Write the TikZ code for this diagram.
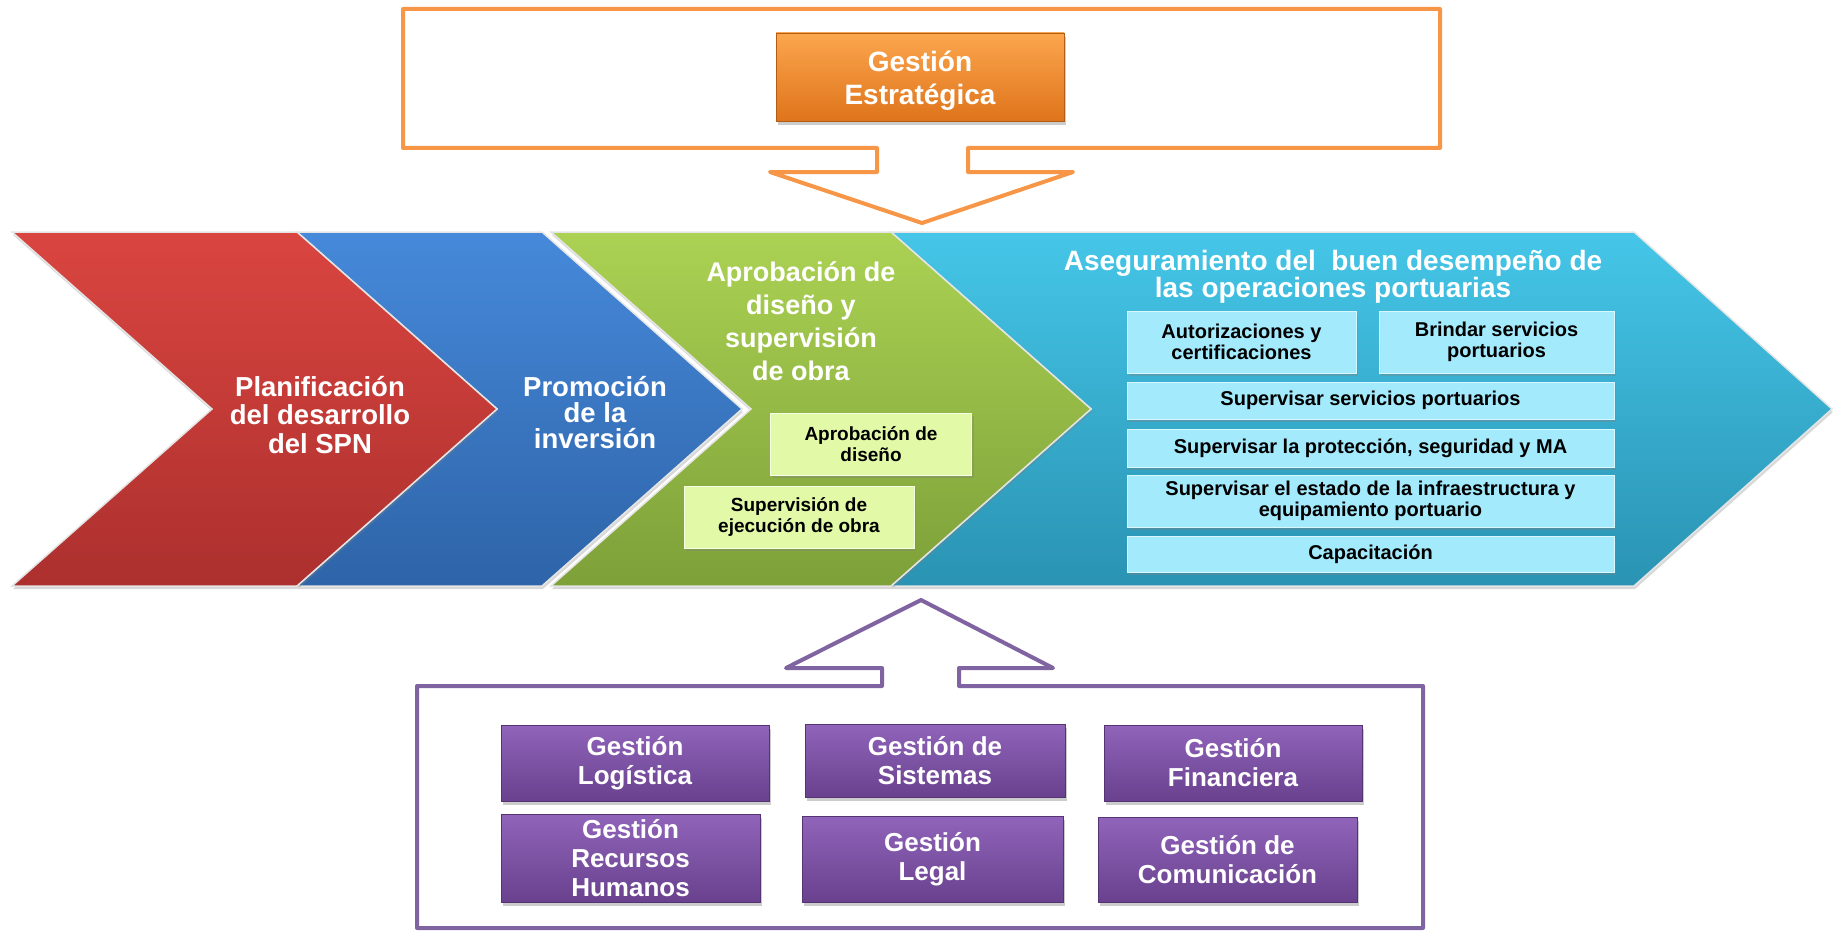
\documentclass[tikz,border=0pt]{standalone}
\usepackage{fontspec}
\setmainfont{Liberation Sans}
\usetikzlibrary{shadows}
\definecolor{redT}{HTML}{DA4540}
\definecolor{redB}{HTML}{AC302E}
\definecolor{bluT}{HTML}{4689DA}
\definecolor{bluB}{HTML}{2E64A8}
\definecolor{grnT}{HTML}{ABD253}
\definecolor{grnB}{HTML}{7DA039}
\definecolor{cyaT}{HTML}{45C6E8}
\definecolor{cyaB}{HTML}{2A93B3}
\definecolor{oraT}{HTML}{FBA64E}
\definecolor{oraB}{HTML}{DF741B}
\definecolor{purT}{HTML}{9064BA}
\definecolor{purB}{HTML}{69418E}
\definecolor{oline}{HTML}{F79646}
\definecolor{pline}{HTML}{8064A2}
\definecolor{cybox}{HTML}{A3EAFC}
\definecolor{grbox}{HTML}{E2F9A8}
\newcommand{\myfs}[2]{\fontsize{#1}{#2}\selectfont\bfseries}
\tikzset{
  chev/.style={draw=white!80!gray, line width=1.5pt, line join=miter,
    drop shadow={opacity=0.3, shadow xshift=1pt, shadow yshift=-3pt}},
  frameline/.style={line width=4pt, line join=round},
  chevtext/.style={text=white, align=center, inner sep=0pt},
  gbox/.style={fill=grbox, draw=white!70!grbox, line width=1pt, inner sep=0pt,
    align=center, text=black, font=\myfs{19}{21},
    drop shadow={opacity=0.35, shadow xshift=2pt, shadow yshift=-3pt}},
  cbox/.style={fill=cybox, draw=white!60!cybox, line width=1pt, inner sep=0pt,
    align=center, text=black, font=\myfs{20}{21},
    drop shadow={opacity=0.35, shadow xshift=2pt, shadow yshift=-3pt}},
  pbox/.style={top color=purT, bottom color=purB, draw=purB!80!black, line width=0.6pt,
    inner sep=0pt, align=center, text=white, font=\myfs{26}{29},
    minimum width=259pt, drop shadow={opacity=0.4, shadow xshift=2pt, shadow yshift=-4pt}},
  obox/.style={top color=oraT, bottom color=oraB, draw=oraB!80!black, line width=0.6pt,
    inner sep=0pt, drop shadow={opacity=0.4, shadow xshift=2pt, shadow yshift=-4pt}},
  otext/.style={align=center, text=white, font=\myfs{28}{33}, inner sep=0pt}
}
\begin{document}
\begin{tikzpicture}[x=1pt,y=-1pt]
\useasboundingbox (0,0) rectangle (1839,931);
\fill[white] (0,0) rectangle (1839,931);

% orange frame with down arrow
\draw[frameline, draw=oline] (403,9) -- (1440,9) -- (1440,148) -- (968,148) -- (968,172)
  -- (1073,172) -- (922,223) -- (770,172) -- (877,172) -- (877,148) -- (403,148) -- cycle;
\node[obox, minimum width=288pt, minimum height=88pt] (estr) at (920,77) {};
\node[otext] (estrtext) at (920,81) {Gestión\\Estratégica};

% chevrons
\path[chev, top color=cyaT, bottom color=cyaB] (891,232) -- (1634,232) -- (1832,409) -- (1634,586)
  -- (891,586) -- (1091,409) -- cycle;
\path[chev, top color=grnT, bottom color=grnB] (551,232) -- (891,232) -- (1091,409) -- (891,586)
  -- (551,586) -- (751,409) -- cycle;
\path[chev, top color=bluT, bottom color=bluB] (297,232) -- (542,232) -- (742,409) -- (542,586)
  -- (297,586) -- (497,409) -- cycle;
\path[chev, top color=redT, bottom color=redB] (12,232) -- (297,232) -- (497,409) -- (297,586)
  -- (12,586) -- (212,409) -- cycle;

\node[chevtext, font=\myfs{27.5}{28.5}] (plan) at (320,415) {Planificación\\del desarrollo\\del SPN};
\node[chevtext, font=\myfs{27.5}{26}] (prom) at (595,413) {Promoción\\de la\\inversión};
\node[chevtext, font=\myfs{27}{33}] (aprob) at (801,321) {Aprobación de\\diseño y\\supervisión\\de obra};
\node[chevtext, font=\myfs{28}{27}] (aseg) at (1333,277) {Aseguramiento del\ \ buen desempeño de\\las operaciones portuarias};

% green sub-boxes
\node[gbox, minimum width=201pt, minimum height=62pt] (ad) at (871,444) {Aprobación de\\diseño};
\node[gbox, minimum width=230pt, minimum height=62pt] (se) at (799,517) {Supervisión de\\ejecución de obra};

% cyan sub-boxes
\node[cbox, minimum width=229pt, minimum height=62pt] (ca) at (1241.5,342) {Autorizaciones y\\certificaciones};
\node[cbox, minimum width=235pt, minimum height=62pt] (cb) at (1496.5,342) {Brindar servicios\\portuarios};
\node[cbox, minimum width=487pt, minimum height=37pt] (cc) at (1370.5,400.5) {Supervisar servicios portuarios};
\node[cbox, minimum width=487pt, minimum height=38pt] (cd) at (1370.5,448) {Supervisar la protección, seguridad y MA};
\node[cbox, minimum width=487pt, minimum height=52pt] (ce) at (1370.5,501) {Supervisar el estado de la infraestructura y\\equipamiento portuario};
\node[cbox, minimum width=487pt, minimum height=36pt] (cf) at (1370.5,554) {Capacitación};

% purple frame with up arrow
\draw[frameline, draw=pline] (417,686) -- (882,686) -- (882,668) -- (786,668) -- (921,600)
  -- (1053,668) -- (959,668) -- (959,686) -- (1423,686) -- (1423,928) -- (417,928) -- cycle;

\node[pbox, minimum width=268pt, minimum height=76pt] (gl) at (635,763) {Gestión\\Logística};
\node[pbox, minimum width=260pt, minimum height=73pt] (gs) at (935,760.5) {Gestión de\\Sistemas};
\node[pbox, minimum width=258pt, minimum height=76pt] (gf) at (1233,763) {Gestión\\Financiera};
\node[pbox, minimum width=259pt, minimum height=88pt] (gr) at (630.5,858) {Gestión\\Recursos\\Humanos};
\node[pbox, minimum width=261pt, minimum height=86pt] (glg) at (932.5,859) {Gestión\\Legal};
\node[pbox, minimum width=259pt, minimum height=85pt] (gc) at (1227.5,859.5) {Gestión de\\Comunicación};
\end{tikzpicture}
\end{document}
